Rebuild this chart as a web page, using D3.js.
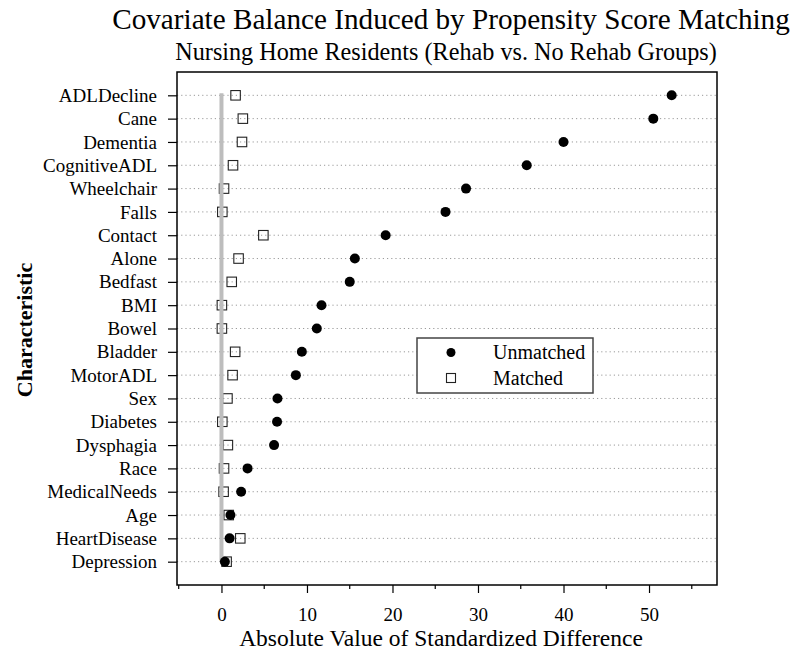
<!DOCTYPE html>
<html>
<head>
<meta charset="utf-8">
<script src="https://cdn.jsdelivr.net/npm/d3@7"></script>
<style>
  body { margin: 0; background: #fff; }
  svg { display: block; font-family: "Liberation Serif", "Times New Roman", serif; }
  svg text { font-family: "Liberation Serif", "Times New Roman", serif; }
  .grid { stroke: #9a9a9a; stroke-width: 1; stroke-dasharray: 1.2 3; }
</style>
</head>
<body>
<svg id="chart" width="793" height="650"></svg>
<script>
const characteristics = ['ADLDecline', 'Cane', 'Dementia', 'CognitiveADL', 'Wheelchair', 'Falls',
  'Contact', 'Alone', 'Bedfast', 'BMI', 'Bowel', 'Bladder', 'MotorADL', 'Sex', 'Diabetes',
  'Dysphagia', 'Race', 'MedicalNeeds', 'Age', 'HeartDisease', 'Depression']
const unmatched = [52.65, 50.5, 40.0, 35.7, 28.6, 26.2, 19.2, 15.6, 15.0, 11.7, 11.15, 9.4, 8.7,
  6.55, 6.5, 6.15, 3.05, 2.3, 1.05, 0.95, 0.4]
const matched = [1.65, 2.5, 2.4, 1.35, 0.3, 0.1, 4.9, 2.0, 1.2, 0.05, 0.05, 1.6, 1.3,
  0.7, 0.1, 0.75, 0.3, 0.25, 0.85, 2.2, 0.6]
const xTicks = [0, 10, 20, 30, 40, 50]
const xMinorTicks = [-5, 5, 15, 25, 35, 45, 55]

const $svg = d3.select('#chart')
const MARGIN = { top: 72, right: 76, bottom: 65, left: 177 }
const width = 793, height = 650
const boundedWidth = width - MARGIN.left - MARGIN.right
const boundedHeight = height - MARGIN.top - MARGIN.bottom

const dataset = characteristics.map((c, i) => ({ name: c, unmatched: unmatched[i], matched: matched[i] }))

const xScale = d3.scaleLinear().domain([-5.2, 57.95]).range([0, boundedWidth])
const yScale = d3.scalePoint().domain(characteristics).range([0, boundedHeight]).padding(1)

const $gVis = $svg.append('g').attr('transform', `translate(${MARGIN.left}, ${MARGIN.top})`)

// grid lines
$gVis.selectAll('line.grid')
  .data(characteristics)
  .enter()
  .append('line')
  .attr('class', 'grid')
  .attr('x1', 0)
  .attr('x2', boundedWidth)
  .attr('y1', d => yScale(d))
  .attr('y2', d => yScale(d))

// matched squares
const sq = 9.5
$gVis.selectAll('rect.matched')
  .data(dataset)
  .enter()
  .append('rect')
  .attr('class', 'matched')
  .attr('x', d => xScale(d.matched) - sq / 2)
  .attr('y', d => yScale(d.name) - sq / 2)
  .attr('width', sq)
  .attr('height', sq)
  .attr('fill', 'none')
  .attr('stroke', '#222')
  .attr('stroke-width', 1.1)

// reference line at zero
$gVis.append('line')
  .attr('x1', xScale(0))
  .attr('x2', xScale(0))
  .attr('y1', yScale(characteristics[0]) - 2)
  .attr('y2', yScale(characteristics[characteristics.length - 1]))
  .attr('stroke', '#bdbdbd')
  .attr('stroke-width', 4)

// unmatched dots
$gVis.selectAll('circle.unmatched')
  .data(dataset)
  .enter()
  .append('circle')
  .attr('class', 'unmatched')
  .attr('cx', d => xScale(d.unmatched))
  .attr('cy', d => yScale(d.name))
  .attr('r', 5)
  .attr('fill', '#000')

// axes
const xAxis = $gVis.append('g')
  .attr('transform', `translate(0, ${boundedHeight})`)
  .call(d3.axisBottom(xScale).tickValues(xTicks).tickSize(8).tickPadding(15).tickFormat(d3.format('d')))
xAxis.select('.domain').remove()
xAxis.selectAll('text').style('font-size', '19px').attr('fill', '#000')
xAxis.selectAll('line').attr('stroke', '#000').attr('stroke-width', 1.2)

$gVis.append('g')
  .attr('transform', `translate(0, ${boundedHeight})`)
  .selectAll('line')
  .data(xMinorTicks)
  .enter()
  .append('line')
  .attr('x1', d => xScale(d))
  .attr('x2', d => xScale(d))
  .attr('y1', 0)
  .attr('y2', 4)
  .attr('stroke', '#000')
  .attr('stroke-width', 1.2)

const yAxis = $gVis.append('g')
  .call(d3.axisLeft(yScale).tickSize(9).tickPadding(11))
yAxis.select('.domain').remove()
yAxis.selectAll('text').style('font-size', '19px').attr('fill', '#000')
yAxis.selectAll('line').attr('stroke', '#000').attr('stroke-width', 1.2)

// frame
$gVis.append('rect')
  .attr('width', boundedWidth)
  .attr('height', boundedHeight)
  .attr('fill', 'none')
  .attr('stroke', '#000')
  .attr('stroke-width', 1.5)

// titles
$svg.append('text')
  .attr('x', 451).attr('y', 29)
  .attr('text-anchor', 'middle')
  .style('font-size', '29.2px')
  .text('Covariate Balance Induced by Propensity Score Matching')

$svg.append('text')
  .attr('x', 446).attr('y', 60)
  .attr('text-anchor', 'middle')
  .style('font-size', '24.2px')
  .text('Nursing Home Residents (Rehab vs. No Rehab Groups)')

$svg.append('text')
  .attr('x', 441).attr('y', 646)
  .attr('text-anchor', 'middle')
  .style('font-size', '23.5px')
  .text('Absolute Value of Standardized Difference')

$svg.append('text')
  .attr('transform', 'translate(32, 330) rotate(-90)')
  .attr('text-anchor', 'middle')
  .style('font-size', '22px')
  .style('font-weight', 'bold')
  .text('Characteristic')

// legend
const $gLegend = $svg.append('g').attr('transform', 'translate(417, 338)')
$gLegend.append('rect')
  .attr('width', 176).attr('height', 55)
  .attr('fill', '#fff')
  .attr('stroke', '#444')
  .attr('stroke-width', 1.5)
$gLegend.append('circle')
  .attr('cx', 34).attr('cy', 14.5).attr('r', 4.5).attr('fill', '#000')
$gLegend.append('rect')
  .attr('x', 29.5).attr('y', 35.5).attr('width', 9).attr('height', 9)
  .attr('fill', 'none').attr('stroke', '#222').attr('stroke-width', 1.1)
$gLegend.append('text')
  .attr('x', 76).attr('y', 21).style('font-size', '20px').text('Unmatched')
$gLegend.append('text')
  .attr('x', 76).attr('y', 46.5).style('font-size', '20px').text('Matched')
</script>
</body>
</html>
